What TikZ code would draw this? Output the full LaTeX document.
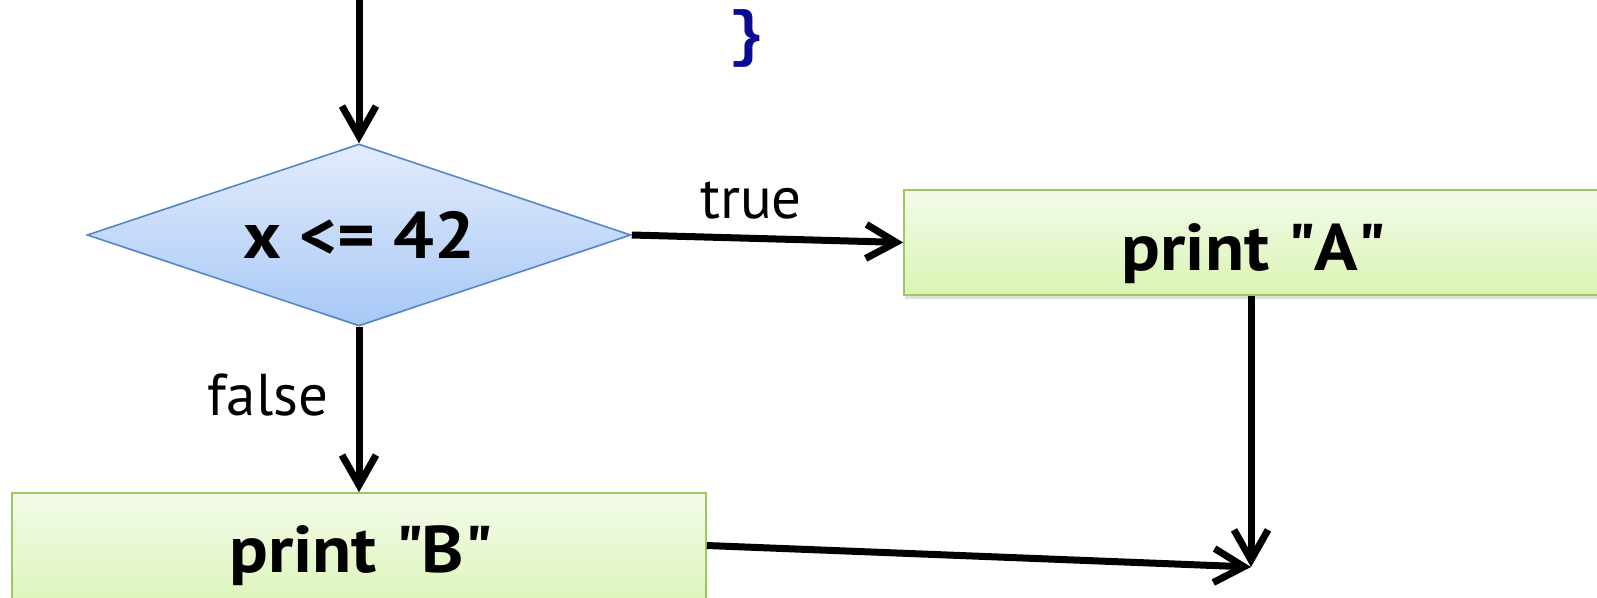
\documentclass[tikz,border=0pt]{standalone}
\usepackage{fontspec}
\setmainfont{PT Sans}
\newfontfamily\bxfont{PT Sans}[FakeStretch=1.09]
\newfontfamily\bracefont{Liberation Mono}
\usetikzlibrary{shapes.geometric,arrows.meta,shadows}
\definecolor{dtop}{RGB}{226,236,252}
\definecolor{dbot}{RGB}{168,200,246}
\definecolor{dline}{RGB}{84,134,200}
\definecolor{btop}{RGB}{243,251,234}
\definecolor{bbot}{RGB}{218,244,178}
\definecolor{bline}{RGB}{156,200,96}
\definecolor{bracecol}{RGB}{10,10,150}
\begin{document}
\begin{tikzpicture}[x=1pt,y=-1pt,
  decision/.style={diamond, draw=dline, line width=1.6pt, top color=dtop, bottom color=dbot,
    minimum width=544pt, minimum height=182pt, inner sep=0pt, aspect=3,
    font=\bxfont\bfseries\fontsize{66}{72}\selectfont},
  procbox/.style={rectangle, draw=bline, line width=1.6pt, top color=btop, bottom color=bbot,
    inner sep=0pt, drop shadow={shadow xshift=1pt, shadow yshift=-4pt, opacity=0.25}},
  boxtext/.style={anchor=base, inner sep=0pt, font=\bxfont\bfseries\fontsize{66}{72}\selectfont},
  lbl/.style={inner sep=0pt, font=\fontsize{59}{66}\selectfont},
  flow/.style={line width=7pt, -{Straight Barb[length=30pt,width=34pt]}}]
\clip (0,0) rectangle (1597,597);
\fill[white] (0,0) rectangle (1597,597);
% nodes
\node[procbox, minimum width=716pt, minimum height=105pt] (boxA) at (1262,242.5) {};
\node[boxtext] (txtA) at (1253,270) {print \textquotedbl A\textquotedbl};
\node[procbox, minimum width=694pt, minimum height=127pt] (boxB) at (359,556.5) {};
\node[boxtext] (txtB) at (360,572) {print \textquotedbl B\textquotedbl};
\node[decision] (cond) at (359,235) {\raisebox{-5pt}{x <= 42}};
\node[lbl] (ltrue) at (751,201) {true};
\node[lbl] (lfalse) at (268,395) {false};
\node[text=bracecol, inner sep=0pt, font=\bracefont\bfseries\fontsize{62}{68}\selectfont] (brace) at (747,38) {\}};
% connectors
\coordinate (start) at (359,-10);
\coordinate (meet) at (1251,567);
\draw[flow] (start) -- (cond.north);
\draw[flow] (cond.east) -- (boxA.west);
\draw[flow] (cond.south) -- (boxB.north);
\draw[flow] (boxA.south -| meet) -- (meet);
\draw[flow] ([yshift=11pt]boxB.east) -- (meet);
\end{tikzpicture}
\end{document}
